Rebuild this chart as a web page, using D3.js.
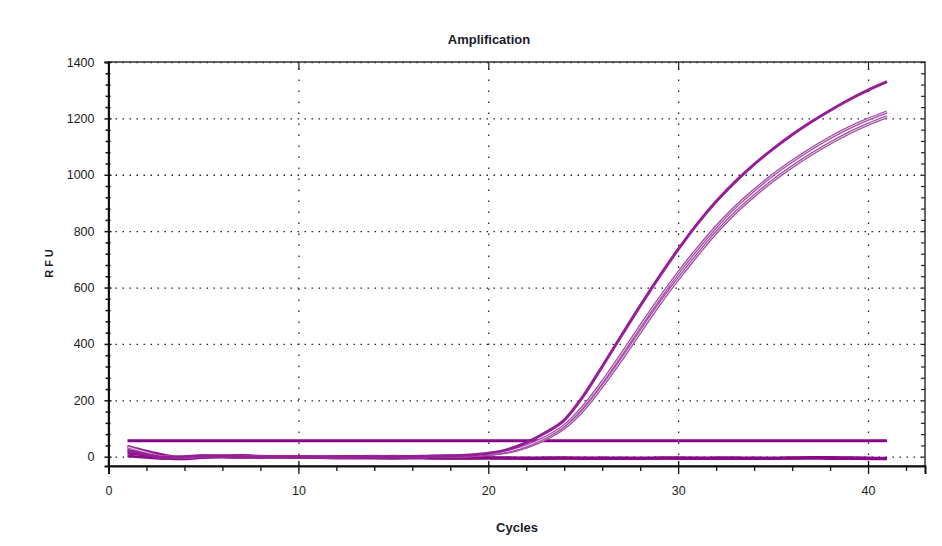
<!DOCTYPE html>
<html>
<head>
<meta charset="utf-8">
<script src="https://cdn.jsdelivr.net/npm/d3@7"></script>
<style>
  html, body { margin: 0; padding: 0; background: #fff; }
  svg { display: block; font-family: "Liberation Sans", Arial, sans-serif; }
</style>
</head>
<body>
<div id="mainDiv"></div>
<script>
'use strict';

// cycles 1..41
var cycles = [1,2,3,4,5,6,7,8,9,10,11,12,13,14,15,16,17,18,19,20,21,22,23,24,25,26,27,28,29,30,31,32,33,34,35,36,37,38,39,40,41];

// amplification curves (RFU per cycle)
var ampA = [22,8,-3,0,3,1,0,-1,0,0,-1,0,1,0,0,1,2,3,6,12,25,50,85,130,215,320,428,535,638,735,825,905,975,1037,1092,1142,1187,1228,1266,1300,1330];
var ampB = [35,15,0,-2,2,4,1,0,-1,0,0,-1,0,1,0,0,1,2,4,9,19,38,68,110,178,265,362,462,560,652,737,815,885,945,1000,1048,1092,1132,1167,1197,1223];
var ampC = [28,10,-4,-1,3,2,0,-1,-1,0,-1,0,0,0,1,0,1,2,3,8,16,34,62,102,165,250,343,442,540,630,715,795,865,925,980,1028,1072,1112,1148,1179,1206];

// flat (negative) wells
var neg1 = [38,20,5,-4,-1,4,5,2,0,-1,-2,-2,-3,-2,-2,-3,-3,-2,-2,-3,-3,-4,-3,-3,-4,-3,-4,-4,-3,-3,-4,-3,-3,-4,-4,-3,-2,-2,-3,-4,-5];
var neg2 = [12,4,-6,-8,-3,0,-1,-2,-3,-3,-4,-4,-3,-4,-5,-4,-4,-5,-5,-4,-5,-5,-6,-5,-5,-6,-5,-6,-6,-5,-5,-6,-6,-5,-6,-5,-4,-4,-5,-6,-7];
var neg3 = [2,-3,-7,-5,-2,-2,-3,-3,-4,-4,-4,-5,-5,-5,-5,-5,-6,-6,-6,-6,-6,-7,-7,-6,-7,-7,-7,-7,-6,-7,-7,-7,-7,-7,-7,-6,-6,-7,-7,-8,-8];

var threshold = 57;

// tick labels / positions
var xMajor = [0,10,20,30,40];
var xMinor = [2,4,6,8,12,14,16,18,22,24,26,28,32,34,36,38,42];
var yMajor = [0,200,400,600,800,1000,1200,1400];
var yMinor = [40,80,120,160,240,280,320,360,440,480,520,560,640,680,720,760,840,880,920,960,1040,1080,1120,1160,1240,1280,1320,1360];

var chart = {};
chart.width = 942;
chart.height = 546;
chart.left = 108.5;
chart.right = 925;
chart.top = 62;
chart.bottom = 466;

chart.x = d3.scaleLinear().domain([0, 43]).range([chart.left, chart.right]);
chart.y = d3.scaleLinear().domain([-33, 1400]).range([chart.bottom, chart.top]);

chart.start = function(){

    var svg = d3.select('#mainDiv').append('svg')
        .attr('width', chart.width)
        .attr('height', chart.height);

    var x = chart.x, y = chart.y;
    var plotH = chart.bottom - chart.top;
    var plotW = chart.right - chart.left;

    // grid (dotted)
    svg.append('g')
        .attr('transform', 'translate(0,' + chart.bottom + ')')
        .call(d3.axisBottom(x).tickValues([10,20,30,40]).tickSize(-plotH).tickFormat(''))
        .call(function(g){ g.select('.domain').remove(); })
        .selectAll('line')
        .attr('stroke', '#222').attr('stroke-width', 1.3).attr('stroke-dasharray', '1.5,9.5');

    svg.append('g')
        .attr('transform', 'translate(' + chart.left + ',0)')
        .call(d3.axisLeft(y).tickValues(yMajor).tickSize(-plotW).tickFormat(''))
        .call(function(g){ g.select('.domain').remove(); })
        .selectAll('line')
        .attr('stroke', '#222').attr('stroke-width', 1.3).attr('stroke-dasharray', '1.5,5.5');

    // curves
    function series(vals){
        return cycles.map(function(c, i){ return [c, vals[i]]; });
    }
    var line = d3.line()
        .curve(d3.curveMonotoneX)
        .x(function(d){ return x(d[0]); })
        .y(function(d){ return y(d[1]); });

    var curves = svg.append('g');

    [neg1, neg2, neg3].forEach(function(s){
        curves.append('path').attr('d', line(series(s)))
            .attr('fill', 'none').attr('stroke', '#880a88').attr('stroke-width', 2.6);
    });

    curves.append('path')
        .attr('d', line([[cycles[0], threshold], [cycles[cycles.length - 1], threshold]]))
        .attr('fill', 'none').attr('stroke', '#880488').attr('stroke-width', 3);

    [ampC, ampB].forEach(function(s){
        curves.append('path').attr('d', line(series(s)))
            .attr('fill', 'none').attr('stroke', '#a24ca2').attr('stroke-width', 3.2);
        curves.append('path').attr('d', line(series(s)))
            .attr('fill', 'none').attr('stroke', '#ecd2ec').attr('stroke-width', 1);
    });
    curves.append('path').attr('d', line(series(ampA)))
        .attr('fill', 'none').attr('stroke', '#961e96').attr('stroke-width', 3);

    // frame
    svg.append('rect')
        .attr('x', chart.left).attr('y', chart.top)
        .attr('width', plotW).attr('height', plotH)
        .attr('fill', 'none').attr('stroke', '#333').attr('stroke-width', 1.5);

    // left axis
    var left = svg.append('g').attr('transform', 'translate(' + chart.left + ',0)');
    left.call(d3.axisLeft(y).tickValues(yMajor).tickFormat(d3.format('d')).tickSize(4).tickPadding(10))
        .call(function(g){ g.select('.domain').attr('stroke', '#111').attr('stroke-width', 2); });
    left.selectAll('.tick line').attr('x1', 3).attr('x2', -4).attr('stroke', '#111').attr('stroke-width', 1.5);
    left.selectAll('.tick text').attr('font-size', '12.5px').attr('fill', '#222');
    var leftMinor = svg.append('g').attr('transform', 'translate(' + chart.left + ',0)');
    leftMinor.call(d3.axisLeft(y).tickValues(yMinor).tickSize(3).tickFormat(''))
        .call(function(g){ g.select('.domain').remove(); });
    leftMinor.selectAll('.tick line').attr('x1', 2).attr('x2', -3).attr('stroke', '#111').attr('stroke-width', 1.5);

    // bottom axis
    var bottom = svg.append('g').attr('transform', 'translate(0,' + chart.bottom + ')');
    bottom.call(d3.axisBottom(x).tickValues(xMajor).tickFormat(d3.format('d')).tickSize(8).tickPadding(12))
        .call(function(g){ g.select('.domain').attr('stroke', '#111').attr('stroke-width', 2); });
    bottom.selectAll('.tick line').attr('y1', -5).attr('stroke', '#111').attr('stroke-width', 1.3);
    bottom.selectAll('.tick text').attr('font-size', '12.5px').attr('fill', '#222');
    var bottomMinor = svg.append('g').attr('transform', 'translate(0,' + chart.bottom + ')');
    bottomMinor.call(d3.axisBottom(x).tickValues(xMinor).tickSize(5).tickFormat(''))
        .call(function(g){ g.select('.domain').remove(); });
    bottomMinor.selectAll('.tick line').attr('stroke', '#111').attr('stroke-width', 1.3);

    // top axis (ticks pointing in)
    var top = svg.append('g').attr('transform', 'translate(0,' + chart.top + ')');
    top.call(d3.axisBottom(x).tickValues(xMinor).tickSize(4).tickFormat(''))
        .call(function(g){ g.select('.domain').remove(); });
    top.call(d3.axisBottom(x).tickValues([10,20,30,40]).tickSize(8).tickFormat(''))
        .call(function(g){ g.select('.domain').remove(); });
    top.selectAll('.tick line').attr('stroke', '#222').attr('stroke-width', 1.2);

    // right axis (ticks pointing in)
    var right = svg.append('g').attr('transform', 'translate(' + chart.right + ',0)');
    right.call(d3.axisLeft(y).tickValues(yMinor.concat(yMajor)).tickSize(4).tickFormat(''))
        .call(function(g){ g.select('.domain').remove(); });
    right.selectAll('.tick line').attr('stroke', '#222').attr('stroke-width', 1.2);

    // titles
    svg.append('text')
        .attr('x', 489).attr('y', 44)
        .attr('text-anchor', 'middle')
        .attr('font-size', '13px').attr('font-weight', 'bold').attr('fill', '#1a1a2a')
        .text('Amplification');

    svg.append('text')
        .attr('x', 517).attr('y', 532)
        .attr('text-anchor', 'middle')
        .attr('font-size', '13px').attr('font-weight', 'bold').attr('fill', '#1a1a2a')
        .text('Cycles');

    svg.append('text')
        .attr('transform', 'translate(53,262) rotate(-90)')
        .attr('text-anchor', 'middle')
        .attr('font-size', '11px').attr('font-weight', 'bold').attr('fill', '#1a1a2a')
        .attr('letter-spacing', '3px')
        .text('RFU');
}

window.onload = chart.start;
</script>
</body>
</html>
